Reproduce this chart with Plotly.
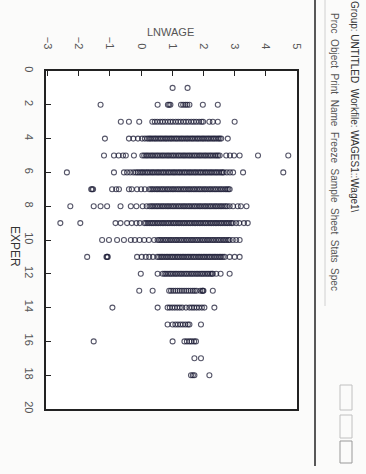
import plotly.graph_objects as go

# ---- data ----
exper_levels = list(range(1, 19))

lnwage_e1 = [1.01, 1.49]
lnwage_e2 = [-1.30, 0.53, 0.86, 0.90, 0.94, 1.28, 1.35, 1.42, 1.48, 1.55, 1.98, 2.46]
lnwage_e3 = [-0.65, -0.39, -0.06, 0.36, 0.44, 0.52, 0.61, 0.69, 0.77, 0.86, 0.94, 1.02, 1.11,
             1.19, 1.27, 1.36, 1.44, 1.52, 1.61, 1.69, 1.77, 1.86, 1.94, 1.99, 2.19, 2.30, 2.46, 3.00]
lnwage_e4 = [-1.16, -0.39, -0.25, -0.10, 0.03, 0.12, 0.20,
             0.26, 0.31, 0.37, 0.43, 0.48, 0.54, 0.60, 0.65, 0.71, 0.77, 0.82, 0.88, 0.94, 0.99,
             1.05, 1.11, 1.16, 1.22, 1.28, 1.33, 1.39, 1.45, 1.50, 1.56, 1.62, 1.67, 1.73, 1.79,
             1.84, 1.90, 1.96, 2.01, 2.07, 2.13, 2.18, 2.24, 2.30, 2.35, 2.41, 2.47, 2.52, 2.57, 2.78]
lnwage_e5 = [-1.19, -0.87, -0.72, -0.58, -0.49, -0.23,
             0.04, 0.10, 0.16, 0.21, 0.27, 0.33, 0.38, 0.44, 0.50, 0.55, 0.61, 0.67, 0.72, 0.78,
             0.84, 0.89, 0.95, 1.01, 1.06, 1.12, 1.18, 1.23, 1.29, 1.35, 1.40, 1.46, 1.52, 1.57,
             1.63, 1.69, 1.74, 1.80, 1.86, 1.91, 1.97, 2.03, 2.08, 2.14, 2.20, 2.25, 2.31, 2.37,
             2.42, 2.47, 2.52, 2.73, 2.85, 2.98, 3.16, 3.75, 4.72]
lnwage_e6 = [-2.38, -0.87, -0.55, -0.45, -0.35, -0.25,
             -0.17, -0.11, -0.05, 0.01, 0.06, 0.12, 0.18, 0.23, 0.29, 0.35, 0.40, 0.46, 0.52,
             0.57, 0.63, 0.69, 0.74, 0.80, 0.86, 0.91, 0.97, 1.03, 1.08, 1.14, 1.20, 1.25, 1.31,
             1.37, 1.42, 1.48, 1.54, 1.59, 1.65, 1.71, 1.76, 1.82, 1.88, 1.93, 1.99, 2.05, 2.10,
             2.16, 2.22, 2.27, 2.33, 2.39, 2.44, 2.50, 2.56, 2.61, 2.65, 2.75, 2.85, 2.95, 3.27, 4.56]
lnwage_e7 = [-1.60, -1.57, -1.54, -0.93, -0.80, -0.71, -0.39, -0.30, -0.13, 0.00, 0.12,
             0.26, 0.32, 0.37, 0.43, 0.49, 0.54, 0.60, 0.66, 0.71, 0.77, 0.83, 0.88, 0.94, 1.00,
             1.05, 1.11, 1.17, 1.22, 1.28, 1.34, 1.39, 1.45, 1.51, 1.56, 1.62, 1.68, 1.73, 1.79,
             1.85, 1.90, 1.96, 2.02, 2.07, 2.13, 2.19, 2.24, 2.30, 2.36, 2.41, 2.47, 2.53, 2.58,
             2.64, 2.70, 2.75, 2.80, 2.84]
lnwage_e8 = [-2.27, -1.52, -1.30, -1.09, -0.66, -0.33, -0.15, 0.05, 0.18,
             0.27, 0.33, 0.38, 0.44, 0.50, 0.55, 0.61, 0.67, 0.72, 0.78, 0.84, 0.89, 0.95, 1.01,
             1.06, 1.12, 1.18, 1.23, 1.29, 1.35, 1.40, 1.46, 1.52, 1.57, 1.63, 1.69, 1.74, 1.80,
             1.86, 1.91, 1.97, 2.03, 2.08, 2.14, 2.20, 2.25, 2.31, 2.37, 2.42, 2.48, 2.54, 2.59,
             2.65, 2.71, 2.76, 2.84, 2.95, 3.10, 3.20, 3.38]
lnwage_e9 = [-2.59, -1.95, -0.82, -0.66, -0.45, -0.30, -0.15, -0.04,
             0.10, 0.16, 0.22, 0.28, 0.34, 0.39, 0.45, 0.51, 0.56, 0.62, 0.68, 0.73, 0.79, 0.85,
             0.90, 0.96, 1.02, 1.07, 1.13, 1.19, 1.24, 1.30, 1.36, 1.41, 1.47, 1.53, 1.58, 1.64,
             1.70, 1.75, 1.81, 1.87, 1.92, 1.98, 2.04, 2.09, 2.15, 2.21, 2.26, 2.32, 2.38, 2.43,
             2.49, 2.55, 2.60, 2.66, 2.72, 2.77, 2.83, 2.89, 2.94, 3.05, 3.15, 3.30, 3.42]
lnwage_e10 = [-1.25, -1.03, -0.77, -0.55, -0.33, -0.20, -0.05, 0.10, 0.25, 0.42,
              0.53, 0.59, 0.64, 0.70, 0.76, 0.81, 0.87, 0.93, 0.98, 1.04, 1.10, 1.15, 1.21, 1.27,
              1.32, 1.38, 1.44, 1.49, 1.55, 1.61, 1.66, 1.72, 1.78, 1.83, 1.89, 1.95, 2.00, 2.06,
              2.12, 2.17, 2.23, 2.29, 2.34, 2.40, 2.46, 2.51, 2.57, 2.63, 2.68, 2.74, 2.80, 2.84,
              2.94, 3.05, 3.16]
lnwage_e11 = [-1.73, -1.11, -1.09, -1.07, -0.13, 0.02, 0.15, 0.26, 0.38, 0.52,
              0.58, 0.64, 0.69, 0.75, 0.81, 0.86, 0.92, 0.98, 1.03, 1.09, 1.15, 1.20, 1.26, 1.32,
              1.37, 1.43, 1.49, 1.54, 1.60, 1.66, 1.71, 1.77, 1.83, 1.88, 1.94, 2.00, 2.05, 2.11,
              2.17, 2.22, 2.28, 2.34, 2.39, 2.45, 2.51, 2.56, 2.62, 2.68, 2.84, 3.00, 3.16]
lnwage_e12 = [-0.01, 0.53, 0.69, 0.75, 0.80, 0.86, 0.92, 0.97, 1.03, 1.09, 1.14, 1.20, 1.26,
              1.31, 1.37, 1.43, 1.48, 1.54, 1.60, 1.65, 1.71, 1.77, 1.82, 1.88, 1.94, 1.99, 2.05,
              2.11, 2.16, 2.22, 2.27, 2.30, 2.41, 2.55, 2.84]
lnwage_e13 = [-0.06, 0.37, 0.90, 0.96, 1.03, 1.10, 1.17, 1.24, 1.31, 1.38, 1.45, 1.52, 1.59,
              1.66, 1.72, 1.78, 1.90, 1.96, 1.98, 2.00, 2.30]
lnwage_e14 = [-0.92, 0.53, 0.85, 0.92, 1.00, 1.08, 1.16, 1.24, 1.32, 1.44, 1.55, 1.63, 1.70,
              1.78, 1.86, 1.95, 2.03, 2.35]
lnwage_e15 = [0.85, 1.01, 1.10, 1.18, 1.26, 1.34, 1.42, 1.50, 1.55, 1.92]
lnwage_e16 = [-1.52, 1.01, 1.39, 1.47, 1.55, 1.62, 1.70, 1.76]
lnwage_e17 = [1.71, 1.92]
lnwage_e18 = [1.60, 1.66, 1.71, 2.19]

rows = [lnwage_e1, lnwage_e2, lnwage_e3, lnwage_e4, lnwage_e5, lnwage_e6, lnwage_e7,
        lnwage_e8, lnwage_e9, lnwage_e10, lnwage_e11, lnwage_e12, lnwage_e13, lnwage_e14,
        lnwage_e15, lnwage_e16, lnwage_e17, lnwage_e18]

x_ticks = [-3, -2, -1, 0, 1, 2, 3, 4, 5]
y_ticks = [0, 2, 4, 6, 8, 10, 12, 14, 16, 18, 20]

xs, ys = [], []
for e, vals in zip(exper_levels, rows):
    xs.extend(vals)
    ys.extend([e] * len(vals))

# ---- layout geometry ----
W, H = 366, 474
L, R, T, B = 46, 69, 71, 65
PW, PH = W - L - R, H - T - B


def px(p):
    return (p - L) / PW


def py(p):
    return (H - B - p) / PH


fig = go.Figure()
fig.add_trace(go.Scatter(
    x=xs, y=ys, mode="markers",
    marker=dict(symbol="circle-open", size=5, color="rgba(30,30,55,0.75)",
                line=dict(width=1.1)),
    hoverinfo="skip", showlegend=False))

axis_font = dict(family="Liberation Sans, Arial, sans-serif", size=11, color="#555")

fig.update_layout(
    width=W, height=H,
    margin=dict(l=L, r=R, t=T, b=B),
    paper_bgcolor="#fbfbfa", plot_bgcolor="white",
    font=dict(family="Liberation Sans, Arial, sans-serif", color="#444"),
    xaxis=dict(range=[-3.05, 5.0], side="top", tickvals=x_ticks, tickangle=90,
               ticks="inside", ticklen=5, tickcolor="#222", showgrid=False,
               zeroline=False, showline=True, linecolor="#222", linewidth=1.5,
               mirror=True, tickfont=axis_font, ticklabelstandoff=16),
    yaxis=dict(range=[20, 0], tickvals=y_ticks, tickangle=90,
               ticks="inside", ticklen=5, tickcolor="#222", showgrid=False,
               zeroline=False, showline=True, linecolor="#222", linewidth=1.5,
               mirror=True, tickfont=axis_font, ticklabelstandoff=6),
)

ann = []
ann.append(dict(text="LNWAGE", x=px(170), y=py(32), xref="paper", yref="paper",
                xanchor="center", yanchor="middle",
                showarrow=False, font=dict(size=11, color="#555")))
ann.append(dict(text="EXPER", x=px(15), y=py(246), xref="paper", yref="paper",
                xanchor="center", yanchor="middle",
                showarrow=False, textangle=90, font=dict(size=12, color="#333")))
ann.append(dict(text="Group: UNTITLED  Workfile: WAGES1::Wage1\\", x=px(355), y=py(107),
                xref="paper", yref="paper", xanchor="center", yanchor="middle",
                showarrow=False, textangle=90, font=dict(size=10, color="#333")))
ann.append(dict(text="Proc  Object  Print  Name  Freeze  Sample  Sheet  Stats  Spec",
                x=px(335), y=py(152), xref="paper", yref="paper", xanchor="center",
                yanchor="middle", showarrow=False, textangle=90,
                font=dict(size=10, color="#555")))
fig.update_layout(annotations=ann)

shapes = [
    dict(type="line", xref="paper", yref="paper", x0=px(315), x1=px(315),
         y0=py(0), y1=py(466), line=dict(color="#222", width=1.5)),
    dict(type="line", xref="paper", yref="paper", x0=px(325), x1=px(325),
         y0=py(0), y1=py(306), line=dict(color="#d0d0d0", width=1)),
    dict(type="rect", xref="paper", yref="paper", x0=px(340), x1=px(352),
         y0=py(385), y1=py(410), line=dict(color="#c0c0c0", width=1)),
    dict(type="rect", xref="paper", yref="paper", x0=px(340), x1=px(352),
         y0=py(415), y1=py(438), line=dict(color="#c0c0c0", width=1)),
    dict(type="rect", xref="paper", yref="paper", x0=px(340), x1=px(352),
         y0=py(441), y1=py(463), line=dict(color="#999", width=1)),
]
fig.update_layout(shapes=shapes)

fig.write_html("out.html", config={"displayModeBar": False},
               post_script="document.body.style.margin='0';document.body.style.padding='0';")
